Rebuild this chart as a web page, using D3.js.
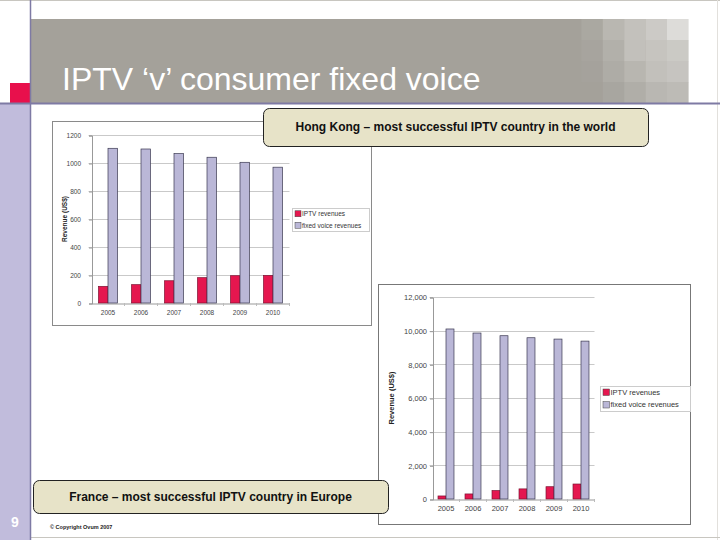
<!DOCTYPE html>
<html>
<head>
<meta charset="utf-8">
<title>IPTV v consumer fixed voice</title>
<style>
  body, html { margin: 0; padding: 0; background: #fff; }
  svg { display: block; font-family: "Liberation Sans", Arial, sans-serif; }
  .grid line { stroke: #c9c9c9; stroke-width: 1; }
  .tick text { fill: #444; }
  .callout text { font-weight: bold; fill: #111; }
</style>
</head>
<body>
<svg id="svg" width="720" height="540"></svg>
<script src="https://d3js.org/d3.v7.min.js"></script>
<script>
// ---- data ----
const years = ['2005', '2006', '2007', '2008', '2009', '2010']
const seriesNames = ['IPTV revenues', 'fixed voice revenues']

const hkIptv = [119, 131, 159, 181, 195, 197]
const hkVoice = [1105, 1100, 1067, 1041, 1005, 970]
const hkTicks = [0, 200, 400, 600, 800, 1000, 1200]

const frIptv = [180, 300, 500, 600, 730, 890]
const frVoice = [10100, 9860, 9700, 9580, 9500, 9380]
const frTicks = [0, 2000, 4000, 6000, 8000, 10000, 12000]

// header fade squares (rows x cols shades)
const fadeShades = [
  ['#a4a19a', '#aaa8a1', '#b9b7b1', '#c3c1bc', '#cccac6', '#dddcd9'],
  ['#a4a19a', '#a7a49e', '#b2b0aa', '#c2c0bb', '#c6c4bf', '#cbcac5'],
  ['#a4a19a', '#a5a29c', '#aeaca6', '#b8b6b0', '#c2c0bb', '#c6c4c0'],
  ['#a4a19a', '#a4a19a', '#a8a6a0', '#b0aea8', '#b9b7b2', '#bdbbb6']
]

const colors = { iptv: '#e5174f', voice: '#bab7d7' }

const svg = d3.select('#svg')

// ---- slide frame ----
svg.append('rect').attr('x', 0).attr('y', 0).attr('width', 720).attr('height', 540).attr('fill', '#fff')
svg.append('line').attr('x1', 0).attr('x2', 720).attr('y1', 0.5).attr('y2', 0.5).attr('stroke', '#c8c6c0')
svg.append('line').attr('x1', 717.5).attr('x2', 717.5).attr('y1', 0).attr('y2', 540).attr('stroke', '#e2e0dc')
svg.append('line').attr('x1', 30).attr('x2', 720).attr('y1', 537.5).attr('y2', 537.5).attr('stroke', '#c8c6c0')

// header band
svg.append('rect').attr('x', 31).attr('y', 19).attr('width', 657).attr('height', 84).attr('fill', '#a4a19a')
const fade = svg.append('g')
fadeShades.forEach((row, r) => {
  row.forEach((c, k) => {
    fade.append('rect')
      .attr('x', 560 + k * 21.4).attr('y', 19 + r * 21)
      .attr('width', 21.6).attr('height', 21.2)
      .attr('fill', c)
  })
})

// left lavender strip, lines, red square
svg.append('rect').attr('x', 0).attr('y', 104).attr('width', 30).attr('height', 436).attr('fill', '#c1bcdc')
svg.append('rect').attr('x', 10).attr('y', 83).attr('width', 20).attr('height', 20).attr('fill', '#e8104c')
svg.append('line').attr('x1', 0).attr('x2', 720).attr('y1', 103.5).attr('y2', 103.5).attr('stroke', '#7e7aa4').attr('stroke-width', 2)
svg.append('line').attr('x1', 30.5).attr('x2', 30.5).attr('y1', 0).attr('y2', 540).attr('stroke', '#7e7aa4').attr('stroke-width', 1.5)

svg.append('text')
  .attr('x', 62).attr('y', 90)
  .attr('fill', '#fff')
  .style('font-size', '32px')
  .text('IPTV \u2018v\u2019 consumer fixed voice')

// footer
svg.append('text').attr('x', 15).attr('y', 527).attr('text-anchor', 'middle')
  .attr('fill', '#fff').style('font-size', '14px').style('font-weight', 'bold').text('9')
svg.append('text').attr('x', 50).attr('y', 529)
  .attr('fill', '#222').style('font-size', '5.5px').style('font-weight', 'bold')
  .text('\u00a9 Copyright Ovum 2007')

// ---- chart helper ----
function drawChart(opt) {
  const g = svg.append('g')
  g.append('rect')
    .attr('x', opt.box[0] + 0.5).attr('y', opt.box[1] + 0.5)
    .attr('width', opt.box[2]).attr('height', opt.box[3])
    .attr('fill', '#fff').attr('stroke', opt.boxStroke).attr('stroke-width', 1)

  const x = d3.scaleBand().domain(years).range([opt.left, opt.right])
  const y = d3.scaleLinear().domain([0, opt.ticks[opt.ticks.length - 1]]).range([opt.bottom, opt.top])

  // gridlines
  g.append('g').attr('class', 'grid')
    .selectAll('line').data(opt.ticks.slice(1)).join('line')
    .attr('x1', opt.left - 3).attr('x2', opt.right)
    .attr('y1', d => Math.round(y(d)) + 0.5).attr('y2', d => Math.round(y(d)) + 0.5)

  // y axis
  const yAxis = d3.axisLeft(y).tickValues(opt.ticks).tickSize(3).tickFormat(opt.fmt)
  const ya = g.append('g').attr('transform', `translate(${opt.left + 0.5},0.5)`).call(yAxis)
  ya.select('.domain').attr('stroke', '#999')
  ya.selectAll('.tick line').attr('stroke', '#999')
  ya.selectAll('.tick text').style('font-size', opt.fs + 'px').attr('x', -opt.labelGap)
    .style('font-family', '"Liberation Sans", Arial, sans-serif')

  // x axis
  const xAxis = d3.axisBottom(x).tickSize(0).tickPadding(opt.xPad)
  const xa = g.append('g').attr('transform', `translate(0,${opt.bottom + 0.5})`).call(xAxis)
  xa.select('.domain').attr('stroke', '#999')
  xa.selectAll('.tick text').style('font-size', opt.fs + 'px')
    .style('font-family', '"Liberation Sans", Arial, sans-serif')
  // small separators between categories
  g.append('g').selectAll('line').data(years).join('line')
    .attr('x1', d => x(d) + x.bandwidth()).attr('x2', d => x(d) + x.bandwidth())
    .attr('y1', opt.bottom).attr('y2', opt.bottom + 3).attr('stroke', '#bbb')

  // bars
  const inner = d3.scaleBand().domain(seriesNames).range([0, x.bandwidth()]).paddingOuter(opt.outerPad).paddingInner(0)
  const rows = years.map((yr, i) => ({ yr, vals: [opt.iptv[i], opt.voice[i]] }))
  const grp = g.append('g').selectAll('g').data(rows).join('g')
    .attr('transform', d => `translate(${x(d.yr)},0)`)
  grp.selectAll('rect').data(d => d.vals.map((v, k) => ({ v, k }))).join('rect')
    .attr('x', d => inner(seriesNames[d.k]))
    .attr('y', d => y(d.v))
    .attr('width', inner.bandwidth())
    .attr('height', d => opt.bottom - y(d.v))
    .attr('fill', d => d.k === 0 ? colors.iptv : colors.voice)
    .attr('stroke', d => d.k === 0 ? '#7d1232' : '#3a3850')
    .attr('stroke-width', 0.7)

  // y title
  g.append('text')
    .attr('transform', `translate(${opt.yTitleX},${(opt.top + opt.bottom) / 2}) rotate(-90)`)
    .attr('text-anchor', 'middle')
    .style('font-size', opt.fs + 'px').style('font-weight', 'bold').attr('fill', '#222')
    .text('Revenue (US$)')

  // legend
  const L = opt.legend
  const lg = g.append('g')
  lg.append('rect').attr('x', L[0] + 0.5).attr('y', L[1] + 0.5).attr('width', L[2]).attr('height', L[3])
    .attr('fill', '#fff').attr('stroke', '#ccc')
  seriesNames.forEach((name, k) => {
    const yy = L[1] + L[3] * (k + 0.5) / 2
    lg.append('rect').attr('x', L[0] + 3).attr('y', yy - opt.sw / 2).attr('width', opt.sw).attr('height', opt.sw)
      .attr('fill', k === 0 ? colors.iptv : colors.voice).attr('stroke', '#444').attr('stroke-width', 0.5)
    lg.append('text').attr('x', L[0] + 4 + opt.sw).attr('y', yy).attr('dy', '0.35em')
      .style('font-size', opt.lfs + 'px').attr('fill', '#333').text(name)
  })
}

function callout(x0, y0, w, h, text) {
  const g = svg.append('g').attr('class', 'callout')
  g.append('rect').attr('x', x0 + 0.5).attr('y', y0 + 0.5).attr('width', w).attr('height', h)
    .attr('rx', 6).attr('fill', '#e7e3c8').attr('stroke', '#222').attr('stroke-width', 1)
  g.append('text').attr('x', x0 + w / 2).attr('y', y0 + h / 2).attr('dy', '0.36em')
    .attr('text-anchor', 'middle').style('font-size', '12px').text(text)
}

// Hong Kong
drawChart({
  box: [52, 121, 319, 204], boxStroke: '#8a8a8a',
  left: 91.5, right: 289.5, top: 135, bottom: 303,
  ticks: hkTicks, fmt: d3.format('d'), iptv: hkIptv, voice: hkVoice,
  fs: 6.5, labelGap: 11, xPad: 7, outerPad: 0.74, yTitleX: 67,
  legend: [292, 208, 77, 23], sw: 6, lfs: 6.5
})
callout(263, 108, 385, 38, 'Hong Kong \u2013 most successful IPTV country in the world')

// France
drawChart({
  box: [378, 284, 312, 240], boxStroke: '#777',
  left: 432.5, right: 594.5, top: 297, bottom: 499,
  ticks: frTicks, fmt: d3.format(','), iptv: frIptv, voice: frVoice,
  fs: 7.5, labelGap: 6, xPad: 6, outerPad: 0.69, yTitleX: 394,
  legend: [600, 386, 90, 25], sw: 6.5, lfs: 7.5
})
callout(33, 480, 355, 33, 'France \u2013 most successful IPTV country in Europe')
</script>
</body>
</html>
